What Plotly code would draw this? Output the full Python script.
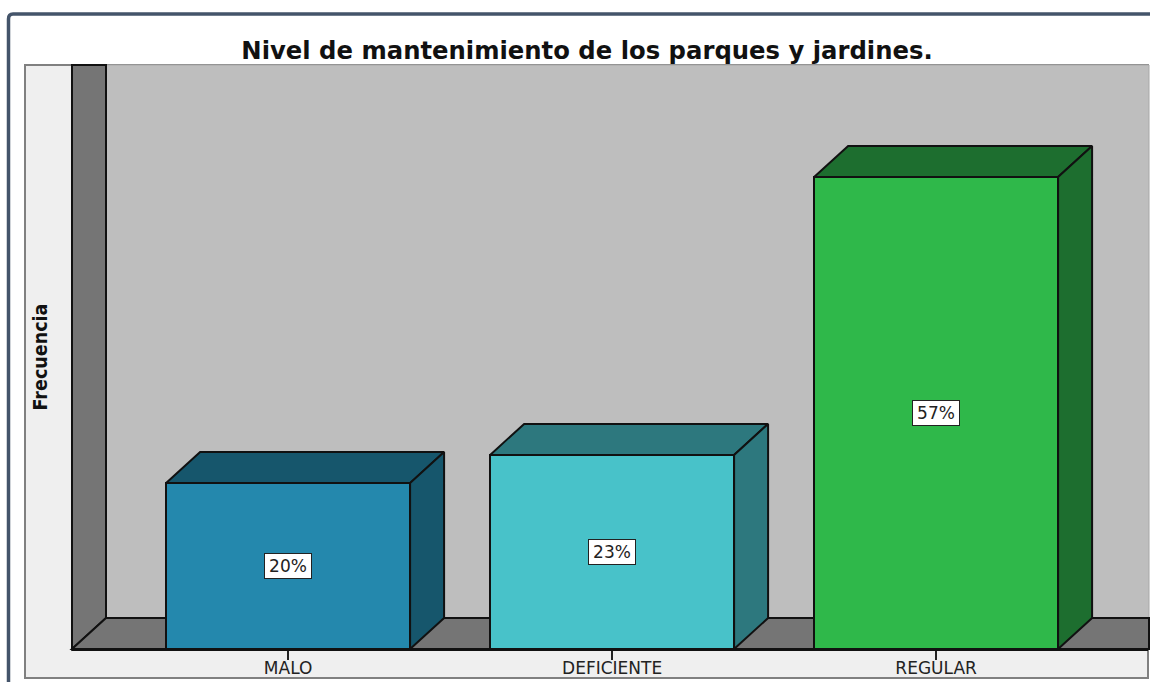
import plotly.graph_objects as go

categories = ["MALO", "DEFICIENTE", "REGULAR"]
heights = [20, 23.4, 56.9]
labels = ["20%", "23%", "57%"]
front_colors = ["#2488ad", "#48c2c9", "#2fb84a"]
side_colors = ["#16566c", "#2d787e", "#1d6e2f"]

W, H = 1150, 682
# plot area in pixels: the floor line is the x axis
LEFT, RIGHT, TOP, BOTTOM = 72, 1148, 65, 649
X_RANGE = [-0.667, 2.654]
Y_RANGE = [0, 70.4]
BAR_WIDTH = 0.753
DEPTH_X, DEPTH_Y = 34, 31  # 3D offset in pixels

dx = DEPTH_X * (X_RANGE[1] - X_RANGE[0]) / (RIGHT - LEFT)
dy = DEPTH_Y * (Y_RANGE[1] - Y_RANGE[0]) / (BOTTOM - TOP)


def px(x):
    return (x - LEFT) / (RIGHT - LEFT)


def py(y):
    return (BOTTOM - y) / (BOTTOM - TOP)


def poly(points, fill, line="#111111", width=2):
    path = "M" + " L".join(f"{px(x)},{py(y)}" for x, y in points) + " Z"
    return dict(type="path", xref="paper", yref="paper", path=path, fillcolor=fill,
                line=dict(color=line, width=width), layer="below")


positions = list(range(len(categories)))
fig = go.Figure()

# top and side faces sit behind the front bars
for i, v in zip(positions, heights):
    x0, x1 = i - BAR_WIDTH / 2, i + BAR_WIDTH / 2
    fig.add_trace(go.Scatter(
        x=[x0, x0 + dx, x1 + dx, x1, x0], y=[v, v + dy, v + dy, v, v],
        mode="lines", fill="toself", fillcolor=side_colors[i],
        line=dict(color="#111111", width=2), hoverinfo="skip", showlegend=False))
    fig.add_trace(go.Scatter(
        x=[x1, x1 + dx, x1 + dx, x1, x1], y=[0, dy, v + dy, v, 0],
        mode="lines", fill="toself", fillcolor=side_colors[i],
        line=dict(color="#111111", width=2), hoverinfo="skip", showlegend=False))

fig.add_trace(go.Bar(
    x=positions, y=heights, width=BAR_WIDTH, marker_color=front_colors,
    marker_line=dict(color="#111111", width=2), showlegend=False))

shapes = [
    # blue frame around the picture
    dict(type="path", xref="paper", yref="paper",
         path=f"M{px(8.5)},{py(H + 5)} L{px(8.5)},{py(19)} Q{px(8.5)},{py(14)} {px(13)},{py(14)} L{px(W + 5)},{py(14)}",
         line=dict(color="#44546a", width=3.5), layer="below"),
    poly([(25, 65), (1148, 65), (1148, 678), (25, 678)], "#efefef", "#808080", 2),
    poly([(106, 65), (1149, 65), (1149, 618), (106, 618)], "#bebebe", "#a8a8a8", 1),
    poly([(72, 65), (106, 65), (106, 618), (72, 649)], "#757575"),
    poly([(72, 649), (106, 618), (1149, 618), (1149, 649)], "#757575"),
]

annotations = [
    dict(x=i, y=v / 2, text=t, showarrow=False, bgcolor="white", width=42,
         bordercolor="#222222", borderwidth=1, borderpad=2,
         font=dict(family="DejaVu Sans", size=17, color="#222222"))
    for i, v, t in zip(positions, heights, labels)
]

fig.update_layout(
    width=W, height=H, autosize=False,
    margin=dict(l=LEFT, r=W - RIGHT, t=TOP, b=H - BOTTOM, pad=0),
    paper_bgcolor="white", plot_bgcolor="rgba(0,0,0,0)",
    title=dict(text="<b>Nivel de mantenimiento de los parques y jardines.</b>",
               x=(587 / W), xanchor="center", y=1 - 50 / H, yanchor="middle",
               font=dict(family="DejaVu Sans", size=24.3, color="#111111")),
    shapes=shapes, annotations=annotations, bargap=0,
    xaxis=dict(range=X_RANGE, tickmode="array", tickvals=positions, ticktext=categories,
               ticks="outside", ticklen=9, tickwidth=2, tickcolor="#222222", automargin=False,
               ticklabelstandoff=-6,
               showline=True, linecolor="#111111", linewidth=2, showgrid=False, zeroline=False,
               tickfont=dict(family="DejaVu Sans", size=17, color="#222222")),
    yaxis=dict(range=Y_RANGE, showticklabels=False, ticks="", showgrid=False, zeroline=False,
               showline=False, automargin=False,
               title=dict(text="<b>Frecuencia</b>", standoff=18,
                          font=dict(family="DejaVu Sans Condensed, Liberation Sans", size=19.5, color="#111111"))),
)

# the page's default body margin would push the figure 8px off the window
fig.write_html("out.html", config={"displayModeBar": False},
               post_script="document.body.style.margin = '0';")
